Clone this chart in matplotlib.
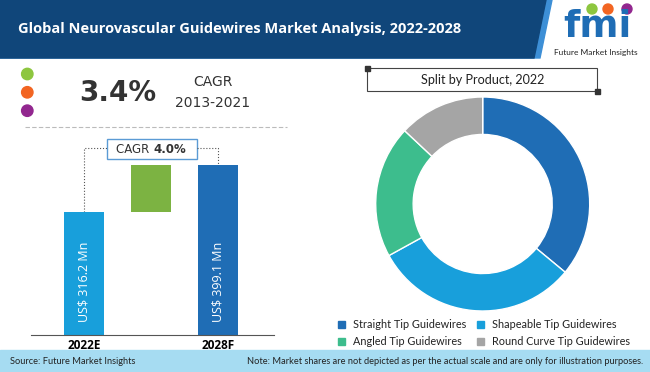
import matplotlib.pyplot as plt
from matplotlib.patches import Rectangle, Circle, Polygon

# data
years = ["2022E", "2028F"]
market_value = [316.2, 399.1]           # US$ Mn
bar_labels = ["US$ 316.2 Mn", "US$ 399.1 Mn"]
cagr_hist = "3.4%"
cagr_hist_period = "2013-2021"
cagr_fcst = "4.0%"

products = ["Straight Tip Guidewires", "Shapeable Tip Guidewires",
            "Angled Tip Guidewires", "Round Curve Tip Guidewires"]
product_share = [36, 31, 20, 13]

W, H = 650, 372
fig = plt.figure(figsize=(6.5, 3.72), dpi=100)
plt.rcParams['font.family'] = ['Lato', 'DejaVu Sans']

# full-figure overlay in pixel coordinates for the decorations
bg = fig.add_axes([0, 0, 1, 1], zorder=0)
bg.set_xlim(0, W)
bg.set_ylim(H, 0)
bg.axis('off')

# header band
bg.add_patch(Polygon([(0, 0), (552, 0), (540, 58), (0, 58)], color='#3d8fd6'))
bg.add_patch(Polygon([(0, 0), (546, 0), (534, 58), (0, 58)], color='#10467a'))
bg.text(18, 29, "Global Neurovascular Guidewires Market Analysis, 2022-2028",
        color='white', fontsize=10.5, fontweight='bold', va='center', ha='left',
        family='Open Sans')

# logo
bg.text(597, 37, "fmi", color='#1f6db5', fontsize=27, fontweight='bold',
        ha='center', va='baseline', family='DejaVu Sans')
for lx, lc in zip([592, 608, 627], ['#8dc63f', '#f26522', '#92278f']):
    bg.add_patch(Circle((lx, 9), 5, color=lc))
bg.text(596, 52.5, "Future Market Insights", fontsize=6, color='#222222',
        ha='center', va='center')

# footer band
bg.add_patch(Rectangle((0, 350), W, 22, color='#a6dcf2'))
bg.text(10, 361, "Source: Future Market Insights", fontsize=6.7, va='center',
        ha='left', color='#222222')
bg.text(643, 361, "Note: Market shares are not depicted as per the actual scale "
        "and are only for illustration purposes.", fontsize=6.7, va='center',
        ha='right', color='#222222')

# CAGR block top-left
for dy, dc in zip([74, 92.3, 110.7], ['#8dc63f', '#f26522', '#92278f']):
    bg.add_patch(Circle((27.3, dy), 5.7, color=dc))
bg.text(118, 93, cagr_hist, fontsize=20, fontweight='bold', color='#333333',
        ha='center', va='center', family='DejaVu Sans')
bg.text(213, 82, "CAGR", fontsize=10, color='#333333', ha='center', va='center',
        family='DejaVu Sans')
bg.text(213, 103, cagr_hist_period, fontsize=10, color='#333333', ha='center',
        va='center', family='DejaVu Sans')
bg.plot([25, 287], [126.7, 126.7], color='#bbbbbb', lw=0.8, ls=(0, (4, 2)))

# forecast CAGR box and dotted bracket
bg.plot([84.3, 84.3, 107.3], [212, 147.7, 147.7], color='#555555', lw=0.8, ls=':')
bg.plot([196.7, 218.3, 218.3], [147.7, 147.7, 166], color='#555555', lw=0.8, ls=':')
bg.add_patch(Rectangle((107.3, 139), 89.4, 20, facecolor='white',
                       edgecolor='#5b9bd5', lw=1))
bg.text(152.5, 149.5, "CAGR ", fontsize=8.5, color='#333333', ha='right',
        va='center', family='DejaVu Sans')
bg.text(153.5, 149.5, cagr_fcst, fontsize=8.5, color='#333333', ha='left',
        va='center', fontweight='bold', family='DejaVu Sans')

# waterfall bars
ax = fig.add_axes([30.7 / W, (H - 335.3) / H, (274 - 30.7) / W, (335.3 - 140) / H],
                  zorder=1)
ax.patch.set_alpha(0)
ax.bar(0, market_value[0], width=0.6, color='#189fdb')
ax.bar(1, market_value[1] - market_value[0], bottom=market_value[0], width=0.6,
       color='#7cb342')
ax.bar(2, market_value[1], width=0.6, color='#1f6db5')
ax.set_xlim(-0.8, 2.83)
ax.set_ylim(99, 444)
for xi, lbl in zip([0, 2], bar_labels):
    ax.text(xi, 194, lbl, rotation=90, color='white', fontsize=9,
            ha='center', va='center', family='Open Sans')
ax.set_xticks([0, 2])
ax.set_xticklabels(years, fontweight='bold', fontsize=8.5, family='Open Sans')
ax.tick_params(axis='x', length=0, pad=3)
ax.set_yticks([])
for s in ['top', 'right', 'left']:
    ax.spines[s].set_visible(False)
ax.spines['bottom'].set_color('#555555')
ax.spines['bottom'].set_linewidth(0.8)

# product split title box
bg.add_patch(Rectangle((367.3, 68.3), 230, 22.7, facecolor='white',
                       edgecolor='#444444', lw=0.8))
bg.add_patch(Rectangle((364.8, 65.8), 5, 5, color='#333333'))
bg.add_patch(Rectangle((594.8, 88.5), 5, 5, color='#333333'))
bg.text(482.3, 79.5, "Split by Product, 2022", fontsize=9.1, color='#222222',
        ha='center', va='center')

# donut
colors = ['#1f6db5', '#189fdb', '#3dbd8d', '#a5a5a5']
R = 107
half = 1.1 * R
pax = fig.add_axes([(482.7 - half) / W, (H - 204 - half) / H, 2 * half / W,
                    2 * half / H], zorder=1)
pax.pie(product_share, colors=colors, startangle=90, counterclock=False,
        radius=1, wedgeprops=dict(width=0.35, edgecolor='white', linewidth=1))
pax.set_xlim(-1.1, 1.1)
pax.set_ylim(-1.1, 1.1)

# legend
leg_pos = [(341.7, 324), (480.7, 324), (341.7, 341.7), (480.7, 341.7)]
for (lx, ly), c, name in zip(leg_pos, colors, products):
    bg.add_patch(Rectangle((lx - 3.5, ly - 3.5), 7, 7, color=c))
    bg.text(lx + 11, ly, name, fontsize=7.8, color='#222222', ha='left', va='center')

fig.savefig("out.png", dpi=100)
